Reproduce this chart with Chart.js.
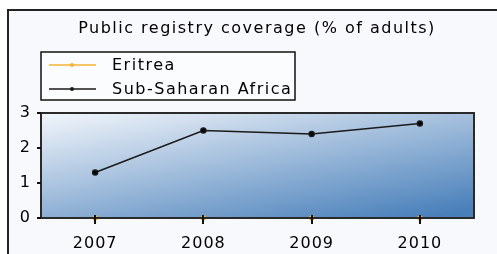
<!DOCTYPE html>
<html>
<head>
<meta charset="utf-8">
<script src="https://cdn.jsdelivr.net/npm/chart.js@4"></script>
<style>
  html, body { margin: 0; padding: 0; background: #fff; }
  #wrap { width: 497px; height: 254px; }
</style>
</head>
<body>
<div id="wrap"><canvas id="chart" width="497" height="254"></canvas></div>
<script>
const titleText = "Public registry coverage (% of adults)"
const years = ["2007", "2008", "2009", "2010"]
const eritrea = [0, 0, 0, 0]
const subSaharan = [1.3, 2.5, 2.4, 2.7]
const yTicks = [0, 1, 2, 3]

Chart.defaults.font.family = "'DejaVu Sans', Verdana, sans-serif"

const framePlugin = {
  id: "frame",
  beforeDraw(chart) {
    const ctx = chart.ctx
    const a = chart.chartArea
    ctx.save()
    ctx.fillStyle = "#ffffff"
    ctx.fillRect(0, 0, chart.width, chart.height)
    ctx.fillStyle = "#f8f9fc"
    ctx.fillRect(8, 11, chart.width - 8, chart.height - 11)
    ctx.strokeStyle = "#222"
    ctx.lineWidth = 2
    ctx.beginPath()
    ctx.moveTo(8, chart.height)
    ctx.lineTo(8, 10)
    ctx.lineTo(chart.width, 10)
    ctx.stroke()

    // plot background
    const g = ctx.createLinearGradient(a.left, a.top, a.left + 31, a.top + 169)
    g.addColorStop(0, "#f3f6fb")
    g.addColorStop(1, "#4a80ba")
    ctx.fillStyle = g
    ctx.fillRect(a.left, a.top, a.right - a.left, a.bottom - a.top)

    ctx.letterSpacing = "1.5px"
    ctx.fillStyle = "#000"
    ctx.font = "16px 'DejaVu Sans'"
    ctx.textAlign = "center"
    ctx.textBaseline = "middle"
    ctx.fillText(titleText, 257, 29)

    // legend
    ctx.fillStyle = "#fbfcfe"
    ctx.fillRect(41, 52, 254, 48)
    ctx.strokeStyle = "#111"
    ctx.lineWidth = 1.5
    ctx.strokeRect(41, 52, 254, 48)
    ctx.textAlign = "left"
    chart.data.datasets.forEach((ds, i) => {
      const y = 65 + i * 24
      ctx.strokeStyle = ds.borderColor
      ctx.lineWidth = 1.5
      ctx.beginPath()
      ctx.moveTo(49, y)
      ctx.lineTo(96, y)
      ctx.stroke()
      ctx.fillStyle = ds.borderColor
      ctx.beginPath()
      ctx.arc(72, y, 2, 0, Math.PI * 2)
      ctx.fill()
      ctx.fillStyle = "#000"
      ctx.fillText(ds.label, 112, y + 1)
    })
    ctx.restore()
    ctx.letterSpacing = "1px"
  },
  afterDatasetsDraw(chart) {
    const ctx = chart.ctx
    const a = chart.chartArea
    const xs = chart.scales.x
    const ys = chart.scales.y
    ctx.save()
    ctx.strokeStyle = "#2a2a2a"
    ctx.lineWidth = 2
    ctx.strokeRect(a.left, a.top, a.right - a.left, a.bottom - a.top)
    ctx.strokeStyle = "#111"
    ctx.lineWidth = 2
    ctx.beginPath()
    xs.ticks.forEach((t, i) => {
      const x = Math.round(xs.getPixelForTick(i))
      ctx.moveTo(x, a.bottom - 3)
      ctx.lineTo(x, a.bottom + 6)
    })
    ys.ticks.forEach((t, i) => {
      const y = Math.round(ys.getPixelForTick(i))
      ctx.moveTo(a.left - 4, y)
      ctx.lineTo(a.left, y)
    })
    ctx.stroke()
    ctx.restore()
  }
}

new Chart(document.getElementById("chart"), {
  type: "line",
  data: {
    labels: years,
    datasets: [
      {
        label: "Eritrea",
        data: eritrea,
        borderColor: "#f5b335",
        backgroundColor: "#f5b335",
        borderWidth: 1.5,
        pointRadius: 2,
        clip: false
      },
      {
        label: "Sub-Saharan Africa",
        data: subSaharan,
        borderColor: "#1a1a1a",
        backgroundColor: "#000",
        borderWidth: 1.5,
        pointRadius: 2.5,
        clip: false
      }
    ]
  },
  options: {
    responsive: false,
    animation: false,
    layout: { padding: { top: 113, right: 23, left: 0, bottom: 0 } },
    plugins: {
      legend: { display: false },
      title: { display: false },
      tooltip: { enabled: false }
    },
    scales: {
      x: {
        offset: true,
        border: { display: false },
        grid: { display: false, drawTicks: false },
        ticks: { color: "#000", font: { size: 16 }, padding: 16, maxRotation: 0 },
        afterFit: s => { s.height = 36 }
      },
      y: {
        min: 0,
        max: 3,
        border: { display: false },
        grid: { display: false, drawTicks: false },
        ticks: { color: "#000", font: { size: 16 }, padding: 10 },
        afterBuildTicks: s => { s.ticks = yTicks.map(v => ({ value: v })) },
        afterFit: s => { s.width = 41 }
      }
    }
  },
  plugins: [framePlugin]
})
</script>
</body>
</html>
